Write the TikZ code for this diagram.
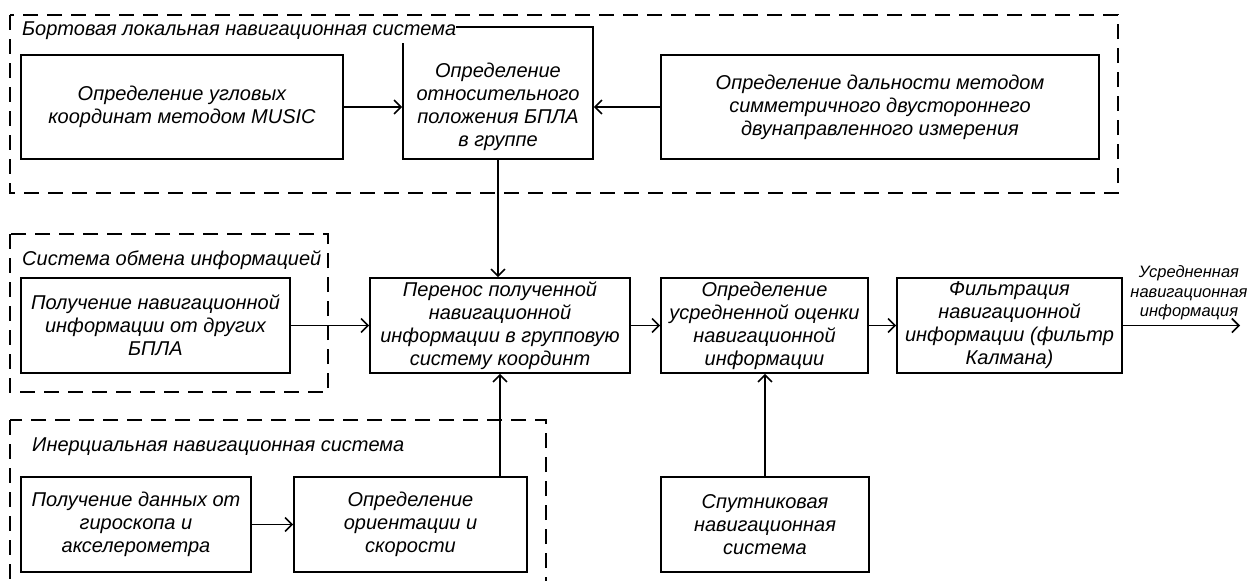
\documentclass[tikz,border=0pt]{standalone}
\usepackage{fontspec}
\setmainfont{Liberation Sans}
\usetikzlibrary{arrows.meta}
\begin{document}
\begin{tikzpicture}[x=1pt,y=-1pt,
  box/.style={draw, line width=1.6pt, align=center, inner sep=1pt,
    font=\fontsize{20}{23}\selectfont\itshape},
  boxtext/.style={align=center, inner sep=0pt,
    font=\fontsize{20}{23}\selectfont\itshape},
  grp/.style={draw, line width=1.6pt, dash pattern=on 15pt off 9pt},
  glabel/.style={anchor=west, inner sep=0pt, font=\fontsize{20}{23}\selectfont\itshape},
  olabel/.style={align=center, inner sep=0pt, font=\fontsize{16.5}{19.5}\selectfont\itshape},
  arr/.style={-{Straight Barb[length=7pt,width=14pt]}, line width=1.6pt}]
\useasboundingbox (0,0) rectangle (1248,581);
\clip (0,0) rectangle (1248,581);
\fill[white] (0,0) rectangle (1248,581);

% groups
\draw[grp] (10,15) rectangle (1118,193);
\draw[grp] (10,234) rectangle (328,392);
\draw[grp] (10,420) rectangle (546,610);

% boxes
\node[box, minimum width=322pt, minimum height=104pt] (A) at (182,107)
  {Определение угловых\\координат методом MUSIC};
\node[box, minimum width=190pt, minimum height=132pt] (B) at (498,93) {};
\node[boxtext] (Bt) at (498,106.5)
  {Определение\\относительного\\положения БПЛА\\в группе};
\node[box, minimum width=438pt, minimum height=104pt] (C) at (880,107)
  {Определение дальности методом\\симметричного двустороннего\\двунаправленного измерения};
\node[box, minimum width=269pt, minimum height=95pt] (D) at (155.5,325.5)
  {Получение навигационной\\информации от других\\БПЛА};
\node[box, minimum width=260pt, minimum height=95pt] (E) at (500,325.5)
  {Перенос полученной\\навигационной\\информации в групповую\\систему координт};
\node[box, minimum width=207pt, minimum height=95pt] (F) at (764.5,325.5)
  {Определение\\усредненной оценки\\навигационной\\информации};
\node[box, minimum width=225pt, minimum height=95pt] (G) at (1009.5,325.5)
  {Фильтрация\\навигационной\\информации (фильтр\\Калмана)};
\node[box, minimum width=230pt, minimum height=95pt] (H) at (136,524.5)
  {Получение данных от\\гироскопа и\\акселерометра};
\node[box, minimum width=233pt, minimum height=95pt] (I) at (410.5,524.5)
  {Определение\\ориентации и\\скорости};
\node[box, minimum width=208pt, minimum height=95pt] (J) at (765,524.5)
  {Спутниковая\\навигационная\\система};

% group labels (white background, drawn over boxes)
\node[glabel, fill=white, inner ysep=3pt] (g1) at (22,31) {Бортовая локальная навигационная система};
\node[glabel] (g2) at (22,260) {Система обмена информацией};
\node[glabel] (g3) at (32,447) {Инерциальная навигационная система};

\node[olabel] (lab) at (1189,293) {Усредненная\\навигационная\\информация};
\coordinate (out) at (1240,325.5);

% connectors
\draw[arr] (A.east) -- (A.east -| B.west);
\draw[arr] (C.west) -- (C.west -| B.east);
\draw[arr] (B.south) -- (B.south |- E.north);
\draw[arr] (D.east) -- (E.west);
\draw[arr] (E.east) -- (F.west);
\draw[arr] (F.east) -- (G.west);
\draw[arr] (G.east) -- (out);
\draw[arr] (H.east) -- (I.west);
\draw[arr] (I.north -| E.south) -- (E.south);
\draw[arr] (J.north) -- (J.north |- F.south);
\end{tikzpicture}
\end{document}
